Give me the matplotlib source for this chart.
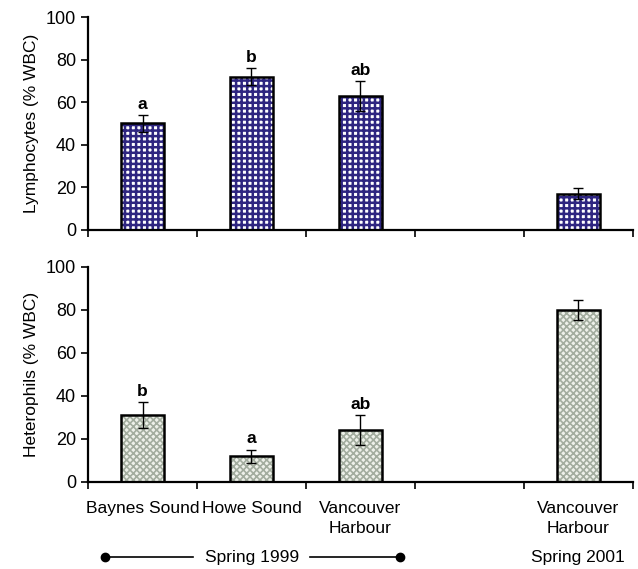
import matplotlib.pyplot as plt
import matplotlib.lines as mlines

plt.rcParams['font.family'] = ['Liberation Sans', 'DejaVu Sans']

# === Data ===
sites = ["Baynes Sound", "Howe Sound", "Vancouver\nHarbour", "", "Vancouver\nHarbour"]
slots = [0, 1, 2, 4]  # slot 3 left empty between the two years

lymph = [50, 72, 63, 17]
lymph_err = [4, 4, 7, 2.5]
lymph_letters = ["a", "b", "ab", ""]

hetero = [31, 12, 24, 80]
hetero_err = [6, 3, 7, 4.5]
hetero_letters = ["b", "a", "ab", ""]

fig = plt.figure(figsize=(6.38, 5.69), dpi=100)
ax1 = fig.add_axes([0.138, 0.596, 0.854, 0.374])
ax2 = fig.add_axes([0.138, 0.153, 0.854, 0.378])


def draw_panel(ax, vals, errs, letters, face, hatch_col, hatch, hatch_lw,
               ylabel, show_labels):
    centers = [s + 0.5 for s in slots]
    with plt.rc_context({'hatch.linewidth': hatch_lw}):
        ax.bar(centers, vals, width=0.4, color=face, edgecolor=hatch_col,
               hatch=hatch, linewidth=0, zorder=2)
    ax.bar(centers, vals, width=0.4, fill=False, edgecolor='black',
           linewidth=1.8, zorder=3)
    ax.errorbar(centers, vals, yerr=errs, fmt='none', ecolor='black',
                elinewidth=1, capsize=3.5, capthick=1, zorder=4)
    for c, v, e, t in zip(centers, vals, errs, letters):
        if t:
            ax.text(c, v + e + 1.5, t, ha='center', va='bottom',
                    fontsize=12.5, fontweight='bold')
    ax.set_xlim(0, 5)
    ax.set_ylim(0, 100)
    ax.set_yticks(range(0, 101, 20))
    ax.set_xticks(range(0, 6))
    ax.set_xticklabels([])
    ax.tick_params(axis='x', which='major', length=5, width=1.2, direction='out')
    ax.tick_params(axis='y', length=5, width=1.2, labelsize=13)
    if show_labels:
        ax.set_xticks([i + 0.5 for i in range(5)], minor=True)
        ax.set_xticklabels(sites, minor=True, fontsize=12.5, linespacing=1.35)
        ax.tick_params(axis='x', which='minor', length=0, pad=14)
    ax.set_ylabel(ylabel, fontsize=12.5, labelpad=5)
    for side in ['top', 'right']:
        ax.spines[side].set_visible(False)
    for side in ['left', 'bottom']:
        ax.spines[side].set_linewidth(1.6)


draw_panel(ax1, lymph, lymph_err, lymph_letters, 'white', '#2e2580', '+++', 1.8,
           'Lymphocytes (% WBC)', False)
draw_panel(ax2, hetero, hetero_err, hetero_letters, '#eef1ea', '#a3ad9f', 'xxxxx', 1.2,
           'Heterophils (% WBC)', True)

# Year annotations below the axis
y_year = 0.021
fig.add_artist(mlines.Line2D([105 / 638, 193 / 638], [y_year, y_year],
                             color='black', lw=1.2))
fig.add_artist(mlines.Line2D([310 / 638, 400 / 638], [y_year, y_year],
                             color='black', lw=1.2))
fig.add_artist(mlines.Line2D([105 / 638, 400 / 638], [y_year, y_year],
                             color='black', lw=0, marker='o', markersize=6,
                             markerfacecolor='black'))
fig.text(252 / 638, y_year, 'Spring 1999', ha='center', va='center', fontsize=12.5)
fig.text(578 / 638, y_year, 'Spring 2001', ha='center', va='center', fontsize=12.5)

plt.savefig("out.png", dpi=100)
